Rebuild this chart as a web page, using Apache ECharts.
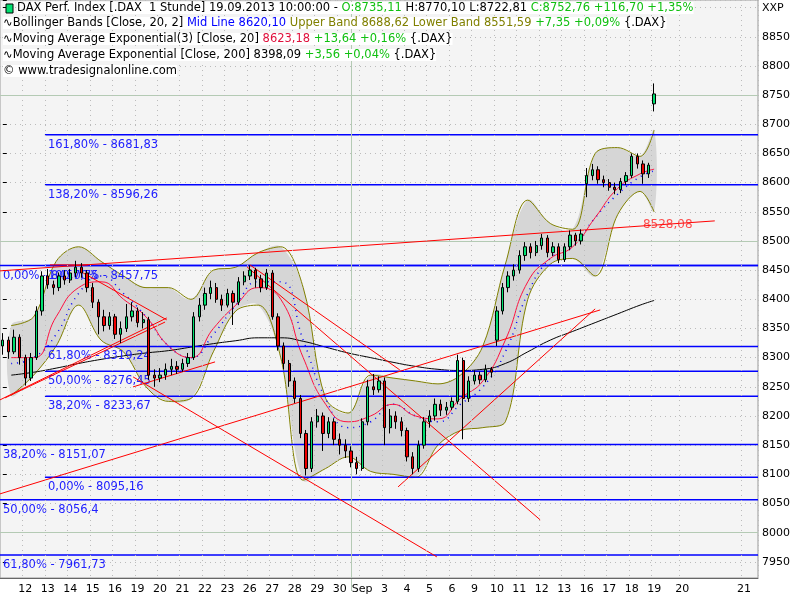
<!DOCTYPE html>
<html><head><meta charset="utf-8">
<script src="https://cdn.jsdelivr.net/npm/echarts@6/dist/echarts.min.js"></script>
<style>html,body{margin:0;padding:0;background:#fff}#c{width:800px;height:600px}</style>
</head><body><div id="c"></div>
<script>
// day labels (one per trading day, 4 hourly slots per day)
const dayLabels = ['', '12','13','14','15','16','19','20','21','22','23','26','27','28','29','30','Sep','3','4','5','6','9','10','11','12','13','16','17','18','19'];
const futureLabels = {121:'20', 132:'21'};
const totalSlots = 135;
// candles [open, close, low, high]
const candles = [
[8320,8330,8305,8342],[8330,8310,8298,8336],[8310,8335,8306,8348],[8335,8300,8288,8340],
[8300,8265,8252,8305],[8265,8300,8260,8308],[8300,8380,8296,8388],[8380,8440,8372,8448],
[8440,8425,8418,8452],[8425,8420,8408,8432],[8420,8440,8414,8446],[8440,8433,8425,8450],
[8433,8445,8428,8452],[8445,8455,8438,8466],[8455,8445,8437,8462],[8445,8420,8412,8450],
[8420,8395,8385,8428],[8395,8370,8340,8400],[8370,8355,8345,8382],[8355,8370,8348,8378],
[8370,8340,8332,8375],[8340,8350,8325,8362],[8350,8370,8344,8392],[8370,8380,8362,8395],
[8380,8360,8352,8386],[8360,8365,8350,8378],[8365,8270,8262,8370],[8270,8265,8250,8280],
[8265,8270,8258,8282],[8270,8280,8262,8290],[8280,8285,8270,8298],[8285,8280,8272,8294],
[8280,8290,8276,8298],[8290,8300,8284,8308],[8300,8370,8296,8378],[8370,8390,8362,8402],
[8390,8410,8382,8420],[8410,8420,8400,8432],[8420,8400,8394,8428],[8400,8390,8380,8408],
[8390,8410,8386,8418],[8410,8395,8356,8415],[8395,8430,8390,8438],[8430,8440,8424,8448],
[8440,8450,8433,8458],[8450,8435,8420,8454],[8435,8420,8412,8442],[8420,8445,8416,8452],
[8445,8370,8365,8450],[8370,8320,8312,8376],[8320,8290,8280,8326],[8290,8260,8250,8296],
[8260,8230,8222,8266],[8230,8170,8162,8236],[8170,8110,8098,8176],[8110,8190,8104,8198],
[8190,8200,8180,8212],[8200,8170,8140,8206],[8170,8190,8162,8198],[8190,8160,8150,8196],
[8160,8150,8134,8170],[8150,8140,8128,8160],[8140,8120,8112,8148],[8120,8110,8100,8130],
[8110,8190,8106,8196],[8190,8250,8184,8262],[8250,8245,8236,8272],[8245,8260,8240,8268],
[8260,8180,8150,8266],[8180,8200,8170,8212],[8200,8190,8178,8208],[8190,8175,8165,8198],
[8175,8130,8122,8180],[8130,8110,8100,8138],[8110,8150,8104,8158],[8150,8190,8144,8198],
[8190,8200,8180,8210],[8200,8220,8192,8230],[8220,8210,8200,8228],[8210,8215,8202,8224],
[8215,8225,8210,8232],[8225,8295,8220,8305],[8295,8230,8160,8300],[8230,8260,8224,8268],
[8260,8270,8254,8278],[8270,8262,8255,8276],[8262,8280,8258,8288],[8280,8275,8266,8284],
[8330,8380,8320,8388],[8380,8420,8374,8428],[8420,8440,8412,8448],[8440,8450,8432,8460],
[8450,8475,8444,8484],[8475,8490,8466,8498],[8490,8480,8470,8496],[8480,8492,8474,8500],
[8492,8505,8485,8512],[8505,8480,8472,8510],[8480,8490,8474,8498],[8490,8468,8462,8496],
[8468,8490,8464,8496],[8490,8510,8484,8518],[8510,8500,8492,8514],[8500,8512,8494,8520],
[8598,8612,8575,8625],[8612,8622,8604,8632],[8622,8605,8598,8628],[8605,8600,8592,8612],
[8600,8592,8586,8606],[8592,8588,8580,8600],[8588,8602,8582,8608],[8602,8612,8596,8618],
[8612,8645,8608,8650],[8645,8632,8624,8650],[8632,8615,8598,8638],[8615,8630,8608,8634],
[8735,8752,8722,8770]
];
// per-day indicator readings
const bbUpper = [8355,8370,8465,8490,8465,8440,8420,8420,8400,8450,8455,8480,8490,8420,8230,8205,8270,8265,8260,8255,8270,8320,8460,8570,8530,8520,8650,8660,8645,8690];
const bbLower = [8235,8270,8320,8390,8330,8310,8250,8225,8230,8310,8380,8390,8300,8090,8110,8130,8105,8100,8095,8150,8175,8180,8190,8400,8460,8470,8440,8545,8585,8550];
const bbMid   = [8290,8300,8340,8410,8440,8410,8370,8320,8300,8340,8390,8430,8430,8330,8230,8180,8190,8220,8200,8190,8220,8250,8310,8410,8470,8490,8540,8580,8610,8620];
const ema20   = [8300,8300,8370,8420,8430,8400,8370,8320,8300,8350,8390,8420,8400,8300,8220,8190,8200,8220,8200,8195,8230,8260,8330,8430,8470,8490,8540,8590,8615,8623];
const ema200  = [8270,8275,8282,8290,8297,8303,8308,8312,8318,8324,8329,8334,8334,8328,8318,8308,8300,8292,8285,8280,8278,8280,8290,8310,8330,8345,8360,8375,8390,8398];
// fibonacci levels: [value, startSlot, label]
const fibLevels = [
[8681.83, 7.5, '161,80% - 8681,83'],
[8596.26, 7.5, '138,20% - 8596,26'],
[8457.75, -0.5, '0,00% - 8457,75'],
[8457.75, 7.5, '100,00% - 8457,75'],
[8319.24, 7.5, '61,80% - 8319,24'],
[8276.45, 7.5, '50,00% - 8276,45'],
[8233.67, 7.5, '38,20% - 8233,67'],
[8151.07, -0.5, '38,20% - 8151,07'],
[8095.16, 7.5, '0,00% - 8095,16'],
[8056.4, -0.5, '50,00% - 8056,4'],
[7961.73, -0.5, '61,80% - 7961,73']
];
// trend lines [slot1, value1, slot2, value2]
const trendLines = [
[-0.5,8066.5,106.4,8381.8],
[70.4,8078.5,105.5,8383.6],
[-0.5,8448.7,126.8,8534.4],
[14.3,8445.2,29.2,8364.7],
[23.2,8267,77.3,7958.5],
[43.5,8455.5,95.7,8022],
[44,8459,70.7,8279],
[-0.5,8227.6,29.2,8368],
[0.4,8231,28.9,8361],
[23.2,8249.9,37.8,8292.7],
[8.4,8459,15.2,8459]
];
const yTicks = [7950, 8850];

const cats = [];
for (let s = 0; s < totalSlots; s++) {
  let n = '';
  if (s % 4 === 0 && s / 4 < dayLabels.length) n = dayLabels[s / 4];
  if (futureLabels[s]) n = futureLabels[s];
  cats.push(n === '' ? ' ' + s : n);
}
const labelOf = v => (String(v).charAt(0) === ' ' ? '' : String(v));
const bx = i => (i < 29 ? 4 * i + 1.5 : 116);
const pts = arr => arr.map((v, i) => [bx(i), v]);
const F = '11.5px "DejaVu Sans"';

const series = [];
series.push({
  type: 'custom', xAxisIndex: 1, yAxisIndex: 0, z: 1, silent: true,
  data: bbUpper.map((u, i) => [bx(i), u, bbLower[i]]),
  renderItem: function (params, api) {
    if (params.dataIndex !== 0) return;
    const up = [], lo = [];
    for (let i = 0; i < bbUpper.length; i++) {
      up.push(api.coord([bx(i), bbUpper[i]]));
      lo.push(api.coord([bx(i), bbLower[i]]));
    }
    return { type: 'polygon', shape: { points: up.concat(lo.reverse()), smooth: 0.35 }, style: { fill: '#d6d6d6' } };
  }
});
[bbUpper, bbLower].forEach(a => series.push({ type: 'line', xAxisIndex: 1, data: pts(a), smooth: 0.35, symbol: 'none', z: 2, lineStyle: { color: '#808000', width: 1 } }));
series.push({ type: 'line', xAxisIndex: 1, data: pts(ema200), smooth: true, symbol: 'none', z: 3, lineStyle: { color: '#000', width: 1 } });
series.push({ type: 'line', xAxisIndex: 1, data: pts(bbMid), smooth: true, symbol: 'none', z: 3, lineStyle: { color: '#0000ff', width: 1.5, type: [1, 5] } });
series.push({ type: 'line', xAxisIndex: 1, data: pts(ema20), smooth: true, symbol: 'none', z: 3, lineStyle: { color: '#ff1040', width: 1 } });
fibLevels.forEach(f => series.push({
  type: 'line', xAxisIndex: 1, symbol: 'circle', symbolSize: 0, showSymbol: true, z: 4, lineStyle: { color: '#0000ff', width: 1.5 },
  labelLayout: { hideOverlap: false },
  data: [{ value: [f[1], f[0]], label: { show: true, position: [3, 4], formatter: f[2], color: '#2020ff', fontSize: 11.5, fontFamily: 'DejaVu Sans' } }, [134.5, f[0]]]
}));
trendLines.forEach(t => series.push({
  type: 'line', xAxisIndex: 1, symbol: 'none', z: 5, lineStyle: { color: '#ff0000', width: 1 },
  data: [[t[0], t[1]], [t[2], t[3]]]
}));
series.push({ type: 'scatter', xAxisIndex: 1, symbolSize: 0, z: 6, data: [[114, 8528.08]],
  label: { show: true, position: 'right', distance: 0, formatter: '8528,08', color: '#ff2020', fontSize: 12, fontFamily: 'DejaVu Sans' } });
series.push({
  type: 'candlestick', xAxisIndex: 0, yAxisIndex: 0, z: 8, barMaxWidth: 4, data: candles,
  itemStyle: { color: '#00e070', color0: '#ee0000', borderColor: '#000', borderColor0: '#000', borderWidth: 1 },
  markLine: { silent: true, symbol: 'none', label: { show: false }, lineStyle: { color: '#b4cab4', type: 'solid', width: 1 },
    data: [{ yAxis: 8750 }, { yAxis: 8500 }, { yAxis: 8000 }, { xAxis: 62 }] }
});

const chart = echarts.init(document.getElementById('c'));
chart.setOption({
  animation: false,
  grid: [
    { left: 0, right: 42, top: 0, bottom: 22, show: true, backgroundColor: '#f4f4f4', borderColor: '#999', borderWidth: 1 },
    { left: 0, right: 42, top: 0, bottom: 9, show: false }
  ],
  xAxis: [
    { type: 'category', gridIndex: 1, data: cats, show: false },
    { type: 'value', gridIndex: 1, min: -0.5, max: totalSlots - 0.5, show: false },
    { type: 'category', gridIndex: 0, data: cats, position: 'bottom', z: 20,
      axisLine: { lineStyle: { color: '#666' } },
      axisTick: { interval: (i, v) => labelOf(v) !== '', length: 5, lineStyle: { color: '#000' } },
      axisLabel: { interval: (i, v) => labelOf(v) !== '', formatter: labelOf, color: '#000', fontSize: 11, fontFamily: 'DejaVu Sans', margin: 6, hideOverlap: false },
      splitLine: { show: true, interval: (i, v) => labelOf(v) !== '', lineStyle: { color: '#bbb', type: [1, 4] } } }
  ],
  yAxis: [
    { type: 'value', gridIndex: 1, min: 7900, max: 8913, interval: 50, position: 'right',
      axisLine: { show: false }, axisTick: { show: true, length: 4, lineStyle: { color: '#000' } },
      axisLabel: { formatter: v => (v < yTicks[0] || v > yTicks[1]) ? '' : String(v), color: '#000', fontSize: 11, fontFamily: 'DejaVu Sans', margin: 4 },
      splitLine: { show: true, lineStyle: { color: '#bbb', type: [1, 4] } } },
    { type: 'value', gridIndex: 0, show: false }
  ],
  graphic: [
    { type: 'rect', z: 1, shape: { x: 0, y: 579, width: 758, height: 14 }, style: { fill: '#fff' } },
    { type: 'rect', z: 100, shape: { x: 6, y: 4, width: 7, height: 9 }, style: { fill: '#00e070', stroke: '#000' } },
    { type: 'text', z: 100, left: 17, top: 2, style: { backgroundColor: '#fff', fill: '#000', font: F, rich: { g: { fill: '#10c010', font: F } },
      text: 'DAX Perf. Index [.DAX  1 Stunde] 19.09.2013 10:00:00 - {g|O:8735,11} H:8770,10 L:8722,81 {g|C:8752,76 +116,70 +1,35%}' } },
    { type: 'text', z: 100, left: 3, top: 17, style: { backgroundColor: '#fff', fill: '#000', font: F, rich: { b: { fill: '#0000ff', font: F }, o: { fill: '#808000', font: F }, g: { fill: '#10c010', font: F } },
      text: '∿Bollinger Bands [Close, 20, 2] {b|Mid Line 8620,10}{o| Upper Band 8688,62 Lower Band 8551,59}{g| +7,35 +0,09%} {.DAX}' } },
    { type: 'text', z: 100, left: 3, top: 33, style: { backgroundColor: '#fff', fill: '#000', font: F, rich: { r: { fill: '#e0103c', font: F }, g: { fill: '#10c010', font: F } },
      text: '∿Moving Average Exponential(3) [Close, 20] {r|8623,18}{g| +13,64 +0,16%} {.DAX}' } },
    { type: 'text', z: 100, left: 3, top: 49, style: { backgroundColor: '#fff', fill: '#000', font: F, rich: { g: { fill: '#10c010', font: F } },
      text: '∿Moving Average Exponential [Close, 200] 8398,09 {g|+3,56 +0,04%} {.DAX}' } },
    { type: 'text', z: 100, left: 3, top: 65, style: { backgroundColor: '#fff', fill: '#000', font: F, text: '© www.tradesignalonline.com' } },
    { type: 'text', z: 100, left: 762, top: 3, style: { fill: '#000', font: '11px "DejaVu Sans"', text: 'XXP' } }
  ],
  series: series
});
</script></body></html>
